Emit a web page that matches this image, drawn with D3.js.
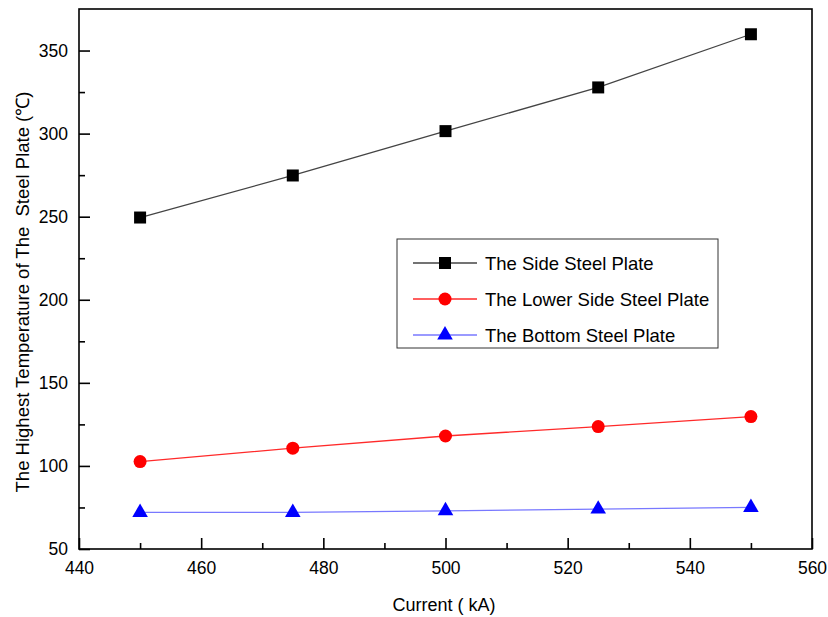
<!DOCTYPE html>
<html>
<head>
<meta charset="utf-8">
<script src="https://cdn.jsdelivr.net/npm/d3@7"></script>
<style>
  body { margin: 0; background: #fff; }
  text { font-family: "Liberation Sans", Arial, sans-serif; fill: #000; }
</style>
</head>
<body>
<div id="chart"></div>
<script>
// data
var current = [450, 475, 500, 525, 550];
var sidePlate = [249.5, 274.8, 301.5, 327.8, 359.8];
var lowerSidePlate = [102.6, 110.7, 118.0, 123.7, 129.7];
var bottomPlate = [72.0, 72.0, 73.0, 74.0, 75.0];
var seriesNames = ["The Side Steel Plate", "The Lower Side Steel Plate", "The Bottom Steel Plate"];
var xTicks = [440, 460, 480, 500, 520, 540, 560];
var yTicks = [50, 100, 150, 200, 250, 300, 350];

function init() {
    var w = 828, h = 617;
    var left = 79, top = 9, right = 812, bottom = 549;

    var svg = d3.select("#chart").append("svg").attr("width", w).attr("height", h);

    var xScale = d3.scaleLinear().domain([440, 560]).range([left, right]);
    var yScale = d3.scaleLinear().domain([50, 375]).range([bottom, top]);

    // minor ticks first, then major ticks with labels
    var xMinor = d3.axisBottom(xScale).tickValues(d3.range(450, 560, 20)).tickSize(-6).tickFormat("");
    var yMinor = d3.axisLeft(yScale).tickValues(d3.range(75, 375, 50)).tickSize(-6).tickFormat("");
    var xAxis = d3.axisBottom(xScale).tickValues(xTicks).tickSize(-11).tickPadding(13);
    var yAxis = d3.axisLeft(yScale).tickValues(yTicks).tickSize(-11).tickPadding(11);

    [xMinor, xAxis].forEach(function (ax) {
        svg.append("g").attr("class", "axis").attr("transform", "translate(0," + bottom + ")").call(ax);
    });
    [yMinor, yAxis].forEach(function (ax) {
        svg.append("g").attr("class", "axis").attr("transform", "translate(" + left + ",0)").call(ax);
    });
    svg.selectAll(".axis .domain").remove();
    svg.selectAll(".axis line").attr("stroke", "#000").attr("stroke-width", 1.6);
    svg.selectAll(".axis text").style("font-size", "17.5px").attr("fill", "#000");

    // frame
    svg.append("rect")
        .attr("x", left).attr("y", top)
        .attr("width", right - left).attr("height", bottom - top)
        .attr("fill", "none").attr("stroke", "#000").attr("stroke-width", 1.6);

    // axis titles
    svg.append("text")
        .attr("x", 444).attr("y", 611)
        .attr("text-anchor", "middle").style("font-size", "18px")
        .text("Current ( kA)");
    svg.append("text")
        .attr("transform", "translate(29,292) rotate(-90)")
        .attr("text-anchor", "middle").style("font-size", "18.5px")
        .style("white-space", "pre")
        .text("The Highest Temperature of The  Steel Plate (\u2103)");

    var series = [
        { name: seriesNames[0], values: sidePlate, color: "#000", line: "#444", shape: d3.symbolSquare, size: 144 },
        { name: seriesNames[1], values: lowerSidePlate, color: "#ff0000", line: "#ff2a2a", shape: d3.symbolCircle, size: 133 },
        { name: seriesNames[2], values: bottomPlate, color: "#0000ff", line: "#7878ff", shape: d3.symbolTriangle, size: 105 }
    ];

    var line = d3.line()
        .x(function (d, i) { return xScale(current[i]); })
        .y(function (d) { return yScale(d); });

    series.forEach(function (s) {
        svg.append("path").attr("d", line(s.values))
            .attr("fill", "none").attr("stroke", s.line).attr("stroke-width", 1.3);
        svg.append("g").selectAll("path").data(s.values).enter().append("path")
            .attr("d", d3.symbol().type(s.shape).size(s.size))
            .attr("transform", function (d, i) {
                return "translate(" + xScale(current[i]) + "," + yScale(d) + ")";
            })
            .attr("fill", s.color);
    });

    // legend
    var lg = svg.append("g").attr("transform", "translate(397,239)");
    lg.append("rect").attr("width", 321).attr("height", 109)
        .attr("fill", "#fff").attr("stroke", "#333").attr("stroke-width", 1);
    series.forEach(function (s, i) {
        var y = 24 + i * 36;
        lg.append("line").attr("x1", 16).attr("x2", 80).attr("y1", y).attr("y2", y)
            .attr("stroke", s.line).attr("stroke-width", 1.3);
        lg.append("path").attr("d", d3.symbol().type(s.shape).size(s.size))
            .attr("transform", "translate(48," + y + ")").attr("fill", s.color);
        lg.append("text").attr("x", 88).attr("y", y + 6.5)
            .style("font-size", "18.5px").text(s.name);
    });
}
window.onload = init;
</script>
</body>
</html>
